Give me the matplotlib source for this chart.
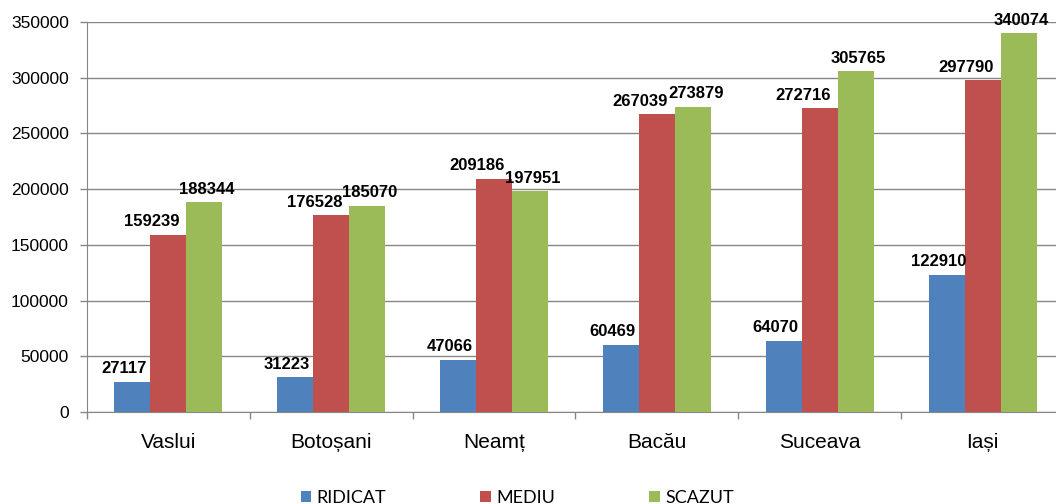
import matplotlib
matplotlib.use("Agg")
import matplotlib.pyplot as plt
import numpy as np
from matplotlib.patches import Patch

categories = ["Vaslui", "Botoșani", "Neamț", "Bacău", "Suceava", "Iași"]
ridicat = [27117, 31223, 47066, 60469, 64070, 122910]
mediu = [159239, 176528, 209186, 267039, 272716, 297790]
scazut = [188344, 185070, 197951, 273879, 305765, 340074]
series_names = ["RIDICAT", "MEDIU", "SCAZUT"]
colors = ["#4F81BD", "#C0504D", "#9BBB59"]
yticks = [0, 50000, 100000, 150000, 200000, 250000, 300000, 350000]

plt.rcParams['font.family'] = ['Liberation Sans', 'DejaVu Sans']

fig = plt.figure(figsize=(10.56, 5.04), dpi=100)
ax = fig.add_axes([87/1056, 1 - 412/504, (1064 - 87)/1056, (412 - 22)/504])

x = np.arange(len(categories))
w = 0.221
label_dx = [-6, -12, 2]
for i, (vals, col) in enumerate(zip([ridicat, mediu, scazut], colors)):
    pos = x + (i - 1) * w
    ax.bar(pos, vals, width=w, color=col, zorder=3)
    for p, v in zip(pos, vals):
        ax.annotate(str(v), (p, v), xytext=(label_dx[i], 4), textcoords='offset points',
                    ha='center', va='bottom', fontsize=12, fontweight='bold', zorder=4)

ax.set_xlim(-0.5, len(categories) - 0.5)
ax.set_ylim(0, 350000)
ax.set_yticks(yticks)
ax.set_yticklabels([str(t) for t in yticks], fontsize=12.5)
ax.yaxis.grid(True, color='#868686', linewidth=1, zorder=0)
ax.set_xticks(x)
ax.set_xticklabels(categories, fontsize=15)
ax.set_xticks(np.arange(len(categories) + 1) - 0.5, minor=True)
ax.tick_params(axis='x', which='major', length=0, pad=15)
ax.tick_params(axis='x', which='minor', length=5, color='#868686', width=1, direction='out')
ax.tick_params(axis='y', length=5, color='#868686', width=1, pad=8)
for s in ['top', 'right']:
    ax.spines[s].set_visible(False)
ax.spines['left'].set_color('#868686')
ax.spines['bottom'].set_color('#868686')

handles = [Patch(facecolor=c, edgecolor='none') for c in colors]
fig.legend(handles, series_names, loc='center', bbox_to_anchor=(0.49, 0.012), ncol=3,
           frameon=False, prop={'family': 'Lato', 'size': 13},
           handlelength=0.6, handleheight=0.6, handletextpad=0.3, columnspacing=5.2)

fig.savefig("out.png", dpi=100)
